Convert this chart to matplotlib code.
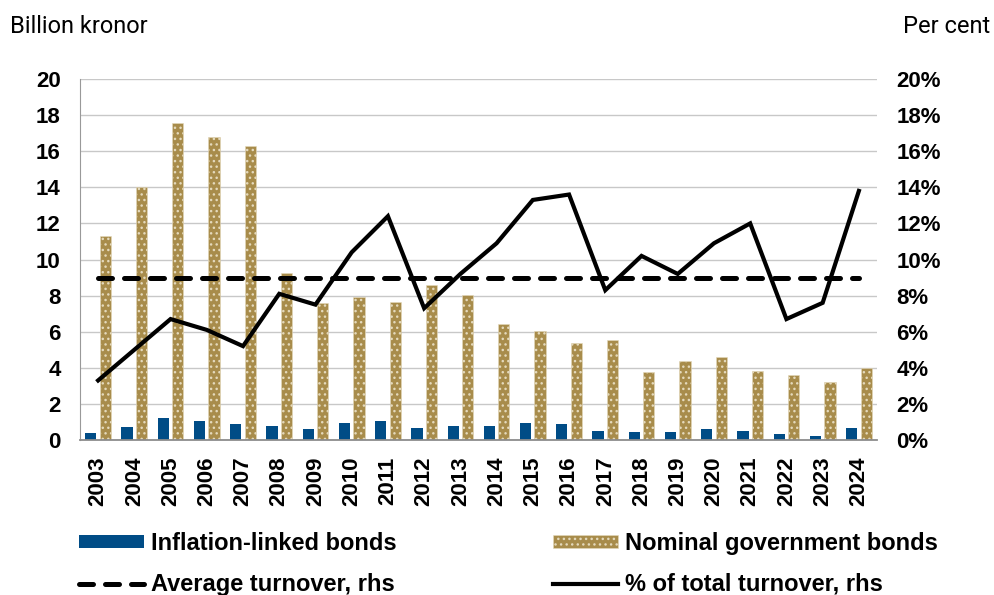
import numpy as np
import matplotlib
matplotlib.use('Agg')
import matplotlib.pyplot as plt
from matplotlib.ticker import FuncFormatter

# data
years = [str(y) for y in range(2003, 2025)]
inflation_linked = [0.37, 0.72, 1.22, 1.07, 0.87, 0.80, 0.59, 0.94, 1.07, 0.65, 0.80,
                    0.80, 0.94, 0.87, 0.52, 0.44, 0.44, 0.59, 0.52, 0.31, 0.24, 0.67]
nominal = [11.33, 14.0, 17.56, 16.78, 16.28, 9.28, 7.59, 7.93, 7.67, 8.57, 8.02,
           6.44, 6.02, 5.37, 5.54, 3.76, 4.39, 4.61, 3.83, 3.61, 3.19, 4.0]
share_total = [3.3, 5.0, 6.7, 6.1, 5.2, 8.1, 7.5, 10.4, 12.4, 7.3, 9.2,
               10.9, 13.3, 13.6, 8.3, 10.2, 9.2, 10.9, 12.0, 6.7, 7.6, 13.8]
avg_turnover = 9.0

blue = '#004C86'
gold = '#A88C4B'
dots = '#E4D9BC'

fig = plt.figure(figsize=(9.95, 5.95), dpi=100)
ax = fig.add_axes([0.0804, 0.2605, 0.8010, 0.6067])
ax2 = ax.twinx()

x = np.arange(len(years))
ax.bar(x - 0.2, inflation_linked, width=0.31, color=blue, linewidth=0,
       label='Inflation-linked bonds', zorder=2)
ax.bar(x + 0.2, nominal, width=0.31, color=gold, edgecolor=dots, linewidth=0.4,
       hatch='...', label='Nominal government bonds', zorder=2)

ax2.plot([x[0], x[-1]], [avg_turnover, avg_turnover], color='black', lw=3.6,
         dashes=(2.8, 2.4), dash_capstyle='round', label='Average turnover, rhs')
ax2.plot(x, share_total, color='black', lw=3.0, solid_joinstyle='miter',
         label='% of total turnover, rhs')

ax.set_xlim(-0.5, len(years) - 0.5)
ax.set_ylim(0, 20)
ax2.set_ylim(0, 20)
ax.set_yticks(np.arange(0, 21, 2))
ax2.set_yticks(np.arange(0, 21, 2))
ax2.yaxis.set_major_formatter(FuncFormatter(lambda v, p: '%d%%' % v))
ax.set_xticks(x)
ax.set_xticklabels(years, rotation=90)

ax.yaxis.grid(True, color='#C8C8C8', lw=1.0)
ax.set_axisbelow(True)
for a in (ax, ax2):
    for s in ('top', 'right'):
        a.spines[s].set_visible(False)
    a.spines['left'].set_visible(a is ax)
    a.spines['bottom'].set_visible(a is ax)
ax.spines['left'].set_color('#999999')
ax.spines['bottom'].set_color('#8C8C8C')
ax.spines['bottom'].set_linewidth(1.3)

tfont = dict(family='Liberation Sans', weight='bold', size=16)
ax.tick_params(axis='y', length=0, pad=14)
ax.tick_params(axis='x', length=0, pad=12)
ax2.tick_params(axis='y', length=0, pad=14)
for lab in ax.get_yticklabels() + ax.get_xticklabels() + ax2.get_yticklabels():
    lab.set_fontproperties(matplotlib.font_manager.FontProperties(**tfont))

fig.text(0.010, 0.975, 'Billion kronor', family='Roboto', size=17, va='top', ha='left')
fig.text(0.995, 0.975, 'Per cent', family='Roboto', size=17, va='top', ha='right')

h1, l1 = ax.get_legend_handles_labels()
h2, l2 = ax2.get_legend_handles_labels()
handles = [h1[0], h2[0], h1[1], h2[1]]
labels = [l1[0], l2[0], l1[1], l2[1]]
fig.legend(handles, labels, loc='upper left', bbox_to_anchor=(0.079, 0.106),
           ncol=2, frameon=False, handlelength=2.75, handleheight=0.42,
           handletextpad=0.3, columnspacing=6.64, labelspacing=0.76,
           borderaxespad=0, borderpad=0,
           prop=dict(family='Liberation Sans', weight='bold', size=17))

fig.savefig('out.png', dpi=100)
